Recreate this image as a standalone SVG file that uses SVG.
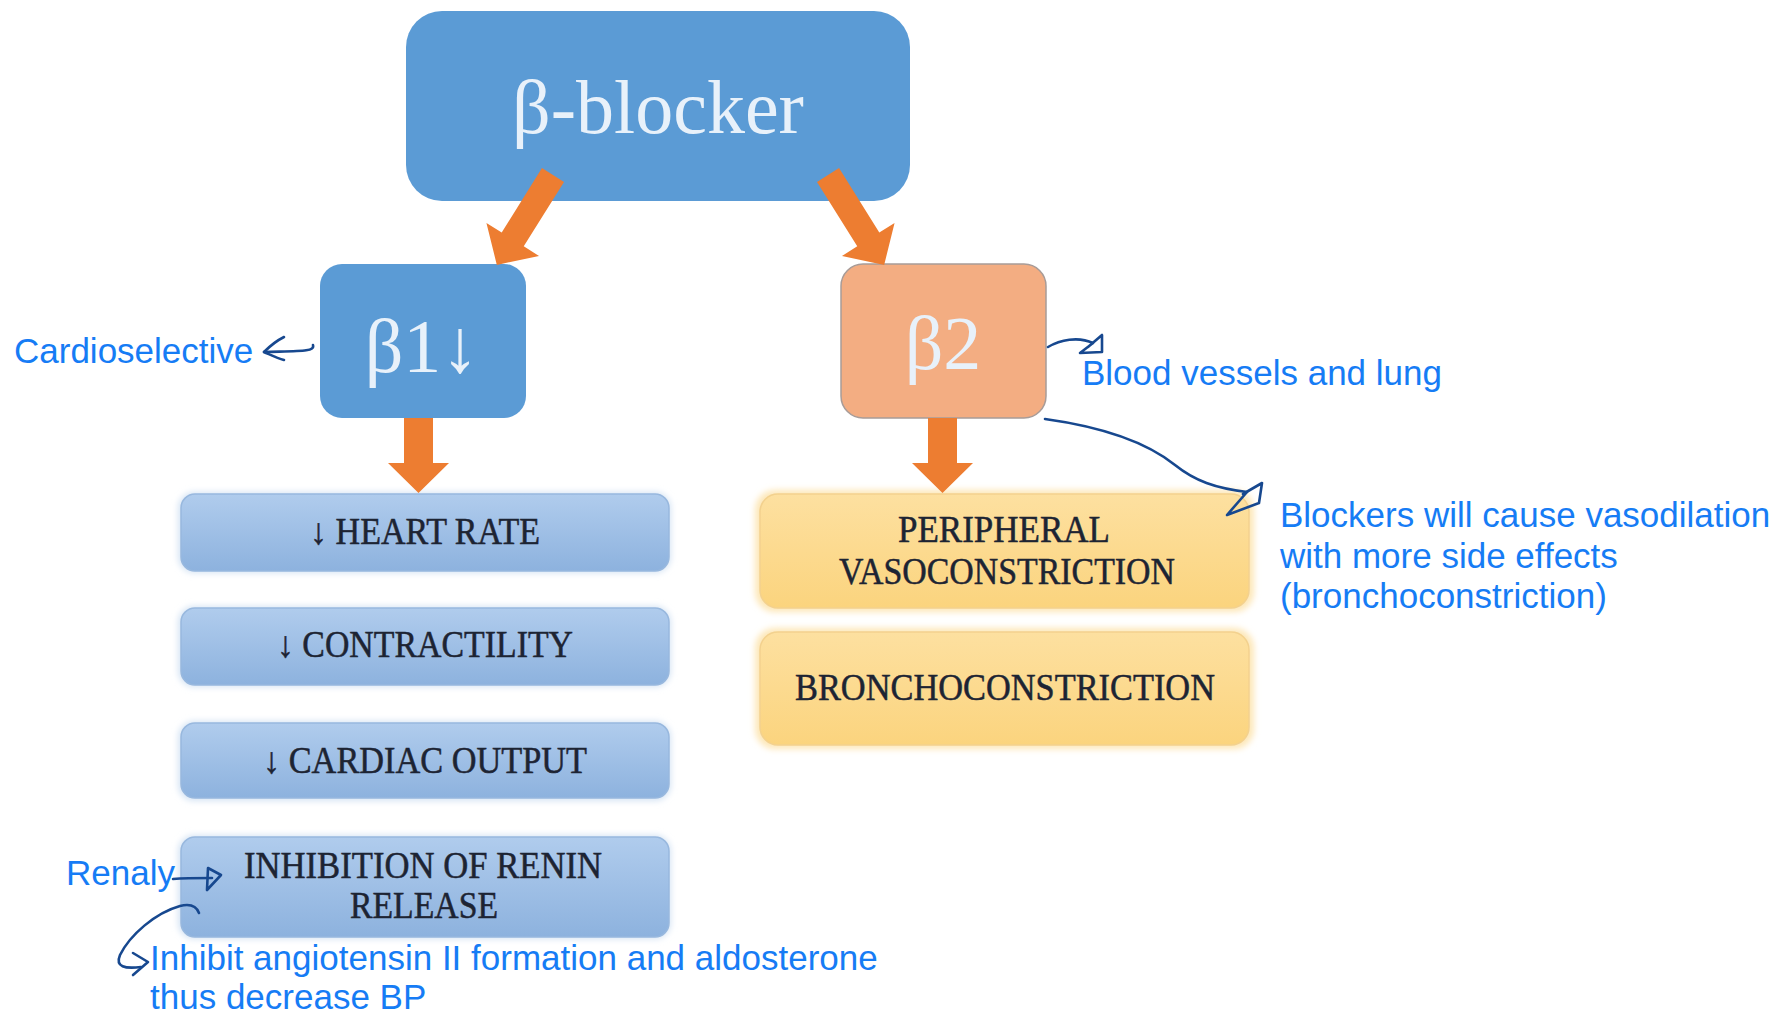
<svg xmlns="http://www.w3.org/2000/svg" width="1780" height="1016" viewBox="0 0 1780 1016">
<defs>
<linearGradient id="gBlue" x1="0" y1="0" x2="0" y2="1">
<stop offset="0" stop-color="#b0cced"/>
<stop offset="1" stop-color="#8db2de"/>
</linearGradient>
<linearGradient id="gYel" x1="0" y1="0" x2="0" y2="1">
<stop offset="0" stop-color="#fde0a0"/>
<stop offset="1" stop-color="#fbd47e"/>
</linearGradient>
<filter id="soft" x="-5%" y="-10%" width="110%" height="120%">
<feGaussianBlur stdDeviation="3"/>
</filter>
</defs>
<style>
.main{fill:#5b9bd5}
.wt{font-family:"Liberation Serif","Times New Roman",serif;fill:#e8f1fa;text-anchor:middle}
.lst{fill:url(#gBlue);stroke:#98b8de;stroke-width:1.5}
.yel{fill:url(#gYel);stroke:#f3d18e;stroke-width:1.5}
.glowY{fill:#fde7b8;filter:url(#soft)}
.glowB{fill:#d6e4f4;filter:url(#soft)}
.bt{font-family:"Liberation Serif","Times New Roman",serif;font-size:37px;fill:#1d2433;stroke:#1d2433;stroke-width:0.5;text-anchor:middle}
.orange{fill:#ed7d31}
.ann{font-family:"Liberation Sans",Arial,Helvetica,sans-serif;font-size:35px;fill:#167cf5}
.hand{fill:none;stroke:#17488f;stroke-width:2.6;stroke-linecap:round;stroke-linejoin:round}
</style>
<rect width="1780" height="1016" fill="#ffffff"/>

<g id="node-beta-blocker">
<rect class="main" x="406" y="11" width="504" height="190" rx="36"/>
<text class="wt" x="658" y="133" font-size="76">β-blocker</text>
</g>

<g id="node-beta1">
<rect class="main" x="320" y="264" width="206" height="154" rx="22"/>
<text class="wt" x="422" y="372" font-size="76">β1↓</text>
</g>

<g id="node-beta2">
<rect x="841" y="264" width="205" height="154" rx="22" fill="#f3ad82" stroke="#a89c98" stroke-width="1.5"/>
<text class="wt" x="943" y="369" font-size="76">β2</text>
</g>

<g id="node-heart-rate">
<rect class="glowB" x="178" y="492" width="493" height="81" rx="16"/>
<rect class="lst" x="181" y="494" width="488" height="77" rx="14"/>
<text class="bt" x="425" y="544" textLength="230" lengthAdjust="spacingAndGlyphs">↓ HEART RATE</text>
</g>

<g id="node-contractility">
<rect class="glowB" x="178" y="606" width="493" height="81" rx="16"/>
<rect class="lst" x="181" y="608" width="488" height="77" rx="14"/>
<text class="bt" x="425" y="657" textLength="296" lengthAdjust="spacingAndGlyphs">↓ CONTRACTILITY</text>
</g>

<g id="node-cardiac-output">
<rect class="glowB" x="178" y="721" width="493" height="80" rx="16"/>
<rect class="lst" x="181" y="723" width="488" height="75" rx="14"/>
<text class="bt" x="425" y="773" textLength="324" lengthAdjust="spacingAndGlyphs">↓ CARDIAC OUTPUT</text>
</g>

<g id="node-renin">
<rect class="glowB" x="178" y="835" width="493" height="104" rx="16"/>
<rect class="lst" x="181" y="837" width="488" height="100" rx="14"/>
<text class="bt" x="423" y="878" textLength="358" lengthAdjust="spacingAndGlyphs">INHIBITION OF RENIN</text>
<text class="bt" x="424" y="918" textLength="148" lengthAdjust="spacingAndGlyphs">RELEASE</text>
</g>

<g id="node-peripheral">
<rect class="glowY" x="755" y="490" width="499" height="122" rx="20"/>
<rect class="yel" x="760" y="494" width="489" height="114" rx="18"/>
<text class="bt" x="1004" y="542" textLength="212" lengthAdjust="spacingAndGlyphs">PERIPHERAL</text>
<text class="bt" x="1007" y="584" textLength="336" lengthAdjust="spacingAndGlyphs">VASOCONSTRICTION</text>
</g>

<g id="node-bronchoconstriction">
<rect class="glowY" x="755" y="628" width="499" height="121" rx="20"/>
<rect class="yel" x="760" y="632" width="489" height="113" rx="18"/>
<text class="bt" x="1005" y="700" textLength="420" lengthAdjust="spacingAndGlyphs">BRONCHOCONSTRICTION</text>
</g>

<g id="note-cardioselective">
<text class="ann" x="14" y="363">Cardioselective</text>
</g>
<g id="note-blood-vessels">
<text class="ann" x="1082" y="385">Blood vessels and lung</text>
</g>
<g id="note-blockers">
<text class="ann" x="1280" y="527">Blockers will cause vasodilation</text>
<text class="ann" x="1280" y="568">with more side effects</text>
<text class="ann" x="1280" y="608">(bronchoconstriction)</text>
</g>
<g id="note-renaly">
<text class="ann" x="66" y="885">Renaly</text>
</g>
<g id="note-inhibit">
<text class="ann" x="150" y="970">Inhibit angiotensin II formation and aldosterone</text>
<text class="ann" x="150" y="1009">thus decrease BP</text>
</g>

<g id="connectors">
<polygon class="orange" transform="translate(553,175) rotate(32)" points="-13,0 13,0 13,76 31,76 0,106 -31,76 -13,76"/>
<polygon class="orange" transform="translate(828,175) rotate(-32)" points="-13,0 13,0 13,76 31,76 0,106 -31,76 -13,76"/>
<polygon class="orange" points="404,418 433,418 433,463 449,463 418.5,493 388,463 404,463"/>
<polygon class="orange" points="928,418 957,418 957,463 973,463 942.5,493 912,463 928,463"/>

<path class="hand" d="M313,345 C315,352 300,351 264,352"/>
<path class="hand" d="M284,337 C276,341 269,347 264,352 C271,355 277,358 284,360"/>

<path class="hand" d="M1048,347 C1060,340 1078,336 1093,343"/>
<path class="hand" d="M1088,347 L1102,335 L1102,352 L1080,353 L1093,343"/>

<path class="hand" d="M1045,419 C1110,428 1150,445 1175,465 C1195,481 1215,488 1247,492"/>
<path class="hand" d="M1243,494 L1262,483 L1259,503 L1227,515 L1247,492"/>

<path class="hand" d="M173,879 C185,878 198,878 212,878"/>
<path class="hand" d="M208,868 L221,875 L207,890 Z"/>

<path class="hand" d="M199,913 C196,905 188,904 180,906 C155,913 130,935 120,955 C115,967 125,969 141,967"/>
<path class="hand" d="M133,953 L148,962 L133,975"/>
</g>
</svg>
